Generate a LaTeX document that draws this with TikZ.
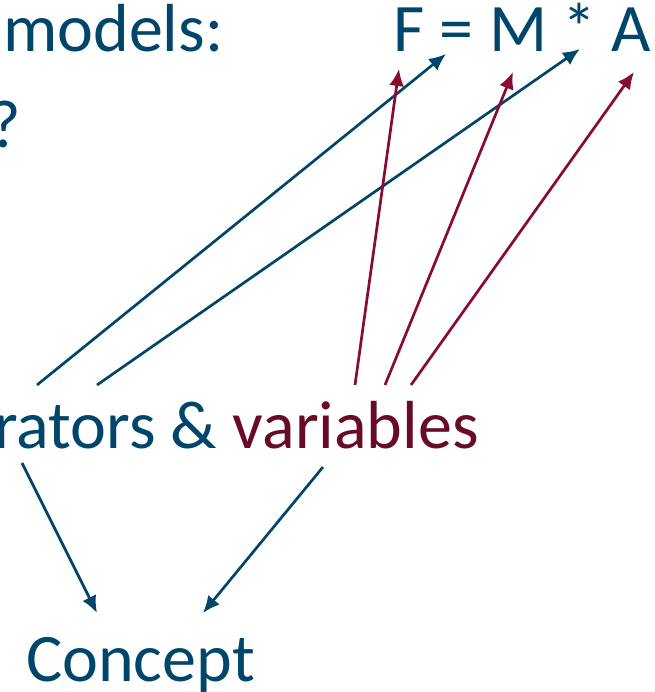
\documentclass[tikz,border=0pt]{standalone}
\usepackage{fontspec}
\setmainfont{Carlito}
\usetikzlibrary{arrows.meta}
\definecolor{dblue}{RGB}{0,70,106}
\definecolor{arrred}{RGB}{135,11,51}
\definecolor{txtred}{RGB}{104,12,38}
\tikzset{
  txt/.style={inner sep=0pt, anchor=base west, text=dblue, font=\fontsize{68}{80}\selectfont},
  barrow/.style={draw=dblue, line width=2.7pt, -{Latex[length=17pt,width=15pt]}},
  rarrow/.style={draw=arrred, line width=2.7pt, -{Latex[length=17pt,width=15pt]}}
}
\begin{document}
\begin{tikzpicture}[x=1pt,y=1pt]
\useasboundingbox (0,0) rectangle (654,692);
\clip (0,0) rectangle (654,692);
% texts
\node[txt] (models) at (3,640) {models:};
\node[txt] (fma) at (393,640) {F = M * A};
\node[txt, anchor=base east] (q) at (21,544) {?};
\node[txt] (opvar) at (-6,243) {rators \& \textcolor{txtred}{variables}};
\node[txt] (concept) at (26,10) {Concept};
% arrow end points
\coordinate (b1s) at (37,307);  \coordinate (b1e) at (446,638);
\coordinate (b2s) at (97,307);  \coordinate (b2e) at (580,643);
\coordinate (r1s) at (355,307); \coordinate (r1e) at (399,623);
\coordinate (r2s) at (385,307); \coordinate (r2e) at (513,620);
\coordinate (r3s) at (411,307); \coordinate (r3e) at (634,620);
\coordinate (c1s) at (22,229);  \coordinate (c1e) at (97,79);
\coordinate (c2s) at (323,225); \coordinate (c2e) at (203,79);
% connectors
\draw[barrow] (b1s) -- (b1e);
\draw[barrow] (b2s) -- (b2e);
\draw[rarrow] (r1s) -- (r1e);
\draw[rarrow] (r2s) -- (r2e);
\draw[rarrow] (r3s) -- (r3e);
\draw[barrow] (c1s) -- (c1e);
\draw[barrow] (c2s) -- (c2e);
\end{tikzpicture}
\end{document}
